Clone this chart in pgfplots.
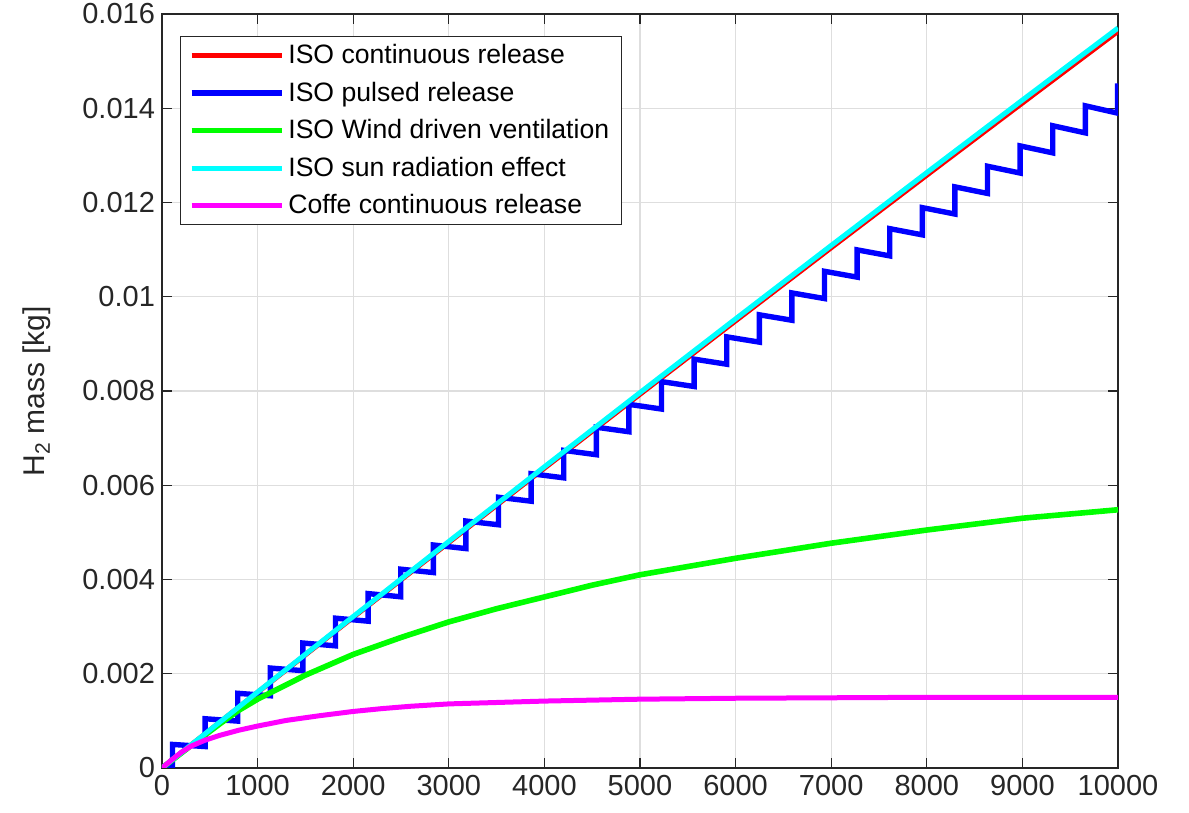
\documentclass[border=0pt]{standalone}
\usepackage{pgfplots}
\pgfplotsset{compat=1.18}
\usepackage{fontspec}
\setmainfont{Liberation Sans}
\definecolor{axc}{RGB}{38,38,38}
\definecolor{gridc}{RGB}{222,222,222}
\definecolor{mred}{RGB}{255,0,0}
\definecolor{mblue}{RGB}{0,0,255}
\definecolor{mgreen}{RGB}{0,255,0}
\definecolor{mcyan}{RGB}{0,255,255}
\definecolor{mmag}{RGB}{255,0,255}
\begin{document}
\begin{tikzpicture}
\begin{axis}[
  scale only axis, width=478pt, height=377pt,
  xmin=0, xmax=10000, ymin=0, ymax=0.016,
  xtick={0,1000,2000,3000,4000,5000,6000,7000,8000,9000,10000},
  ytick={0,0.002,0.004,0.006,0.008,0.01,0.012,0.014,0.016},
  scaled x ticks=false, scaled y ticks=false,
  xticklabel style={/pgf/number format/1000 sep={}},
  yticklabel style={/pgf/number format/fixed,/pgf/number format/precision=3},
  /pgf/number format/assume math mode=true,
  tick label style={font=\fontsize{14.5}{16}\selectfont, text=axc},
  ylabel={H\raisebox{-0.35ex}{\fontsize{10.5}{12}\selectfont 2} mass [kg]},
  ylabel style={font=\fontsize{15}{17}\selectfont, text=axc},
  ylabel shift=9pt,
  axis line style={axc, line width=0.6pt},
  tick style={axc, line width=0.6pt},
  tick align=inside, tick pos=both, major tick length=5pt,
  grid=major, major grid style={gridc, line width=0.6pt},
  legend style={at={(0.019,0.971)}, anchor=north west, draw=axc, line width=0.6pt,
    font=\fontsize{13.3}{15}\selectfont, row sep=3.6pt, inner xsep=4pt, inner ysep=2pt,
    cells={anchor=west}},
  legend image code/.code={\draw[#1] (0pt,0pt) -- (45pt,0pt);},
]
\addplot[mred, line width=2.5pt] coordinates {
(0,0) (1000,0.001605) (2000,0.003199) (3000,0.004786) (4000,0.006363) (5000,0.007931)
(6000,0.009489) (7000,0.011040) (8000,0.012580) (9000,0.014111) (10000,0.015633)};
\addlegendentry{ISO continuous release}
\addplot[mblue, line width=2.7pt] coordinates {
(0,0) (110,0) (110,0.0005) (451,0.000455) (451,0.001045) (792,0.000995) (792,0.001585)
(1133,0.001533) (1133,0.002121) (1474,0.002065) (1474,0.002652) (1815,0.002592) (1815,0.003179)
(2156,0.003115) (2156,0.003701) (2497,0.003633) (2497,0.004219) (2838,0.004147) (2838,0.004732)
(3179,0.004656) (3179,0.005241) (3520,0.005161) (3520,0.005745) (3861,0.005661) (3861,0.006245)
(4202,0.006157) (4202,0.006740) (4543,0.006648) (4543,0.007231) (4884,0.007135) (4884,0.007717)
(5225,0.007617) (5225,0.008199) (5566,0.008095) (5566,0.008676) (5907,0.008568) (5907,0.009149)
(6248,0.009037) (6248,0.009617) (6589,0.009501) (6589,0.010081) (6930,0.009961) (6930,0.010540)
(7271,0.010416) (7271,0.010995) (7612,0.010867) (7612,0.011445) (7953,0.011313) (7953,0.011891)
(8294,0.011755) (8294,0.012332) (8635,0.012192) (8635,0.012769) (8976,0.012625) (8976,0.013201)
(9317,0.013053) (9317,0.013629) (9658,0.013477) (9658,0.014052) (9996,0.013896) (9996,0.014471)
(10000,0.014471)};
\addlegendentry{ISO pulsed release}
\addplot[mgreen, line width=2.8pt] coordinates {
(0,0) (300,0.00047) (600,0.00093) (800,0.00122) (1000,0.00146) (1500,0.00197) (2000,0.00241)
(2500,0.00277) (3000,0.0031) (3500,0.00338) (4000,0.00363) (4500,0.00388) (5000,0.0041)
(6000,0.00445) (7000,0.00477) (8000,0.00505) (9000,0.0053) (10000,0.00548)};
\addlegendentry{ISO Wind driven ventilation}
\addplot[mcyan, line width=2.5pt] coordinates {
(0,0) (1000,0.001612) (2000,0.003214) (3000,0.004807) (4000,0.006391) (5000,0.007966)
(6000,0.009531) (7000,0.011088) (8000,0.012635) (9000,0.014173) (10000,0.015702)};
\addlegendentry{ISO sun radiation effect}
\addplot[mmag, line width=2.5pt] coordinates {
(0,0) (100,0.00017) (200,0.00033) (300,0.00046) (450,0.00059) (600,0.00069) (800,0.0008)
(1000,0.00089) (1300,0.00101) (1650,0.00111) (2000,0.0012) (2300,0.00126) (2600,0.00131)
(3000,0.00136) (3500,0.00139) (4000,0.00142) (5000,0.00146) (6000,0.00148) (7000,0.00149)
(8000,0.0015) (9000,0.0015) (10000,0.0015)};
\addlegendentry{Coffe continuous release}
\end{axis}
\pgfresetboundingbox
\path[use as bounding box] ([shift={(-81pt,-22.5pt)}]current axis.south west) rectangle ([shift={(35.5pt,7pt)}]current axis.north east);
\end{tikzpicture}
\end{document}
